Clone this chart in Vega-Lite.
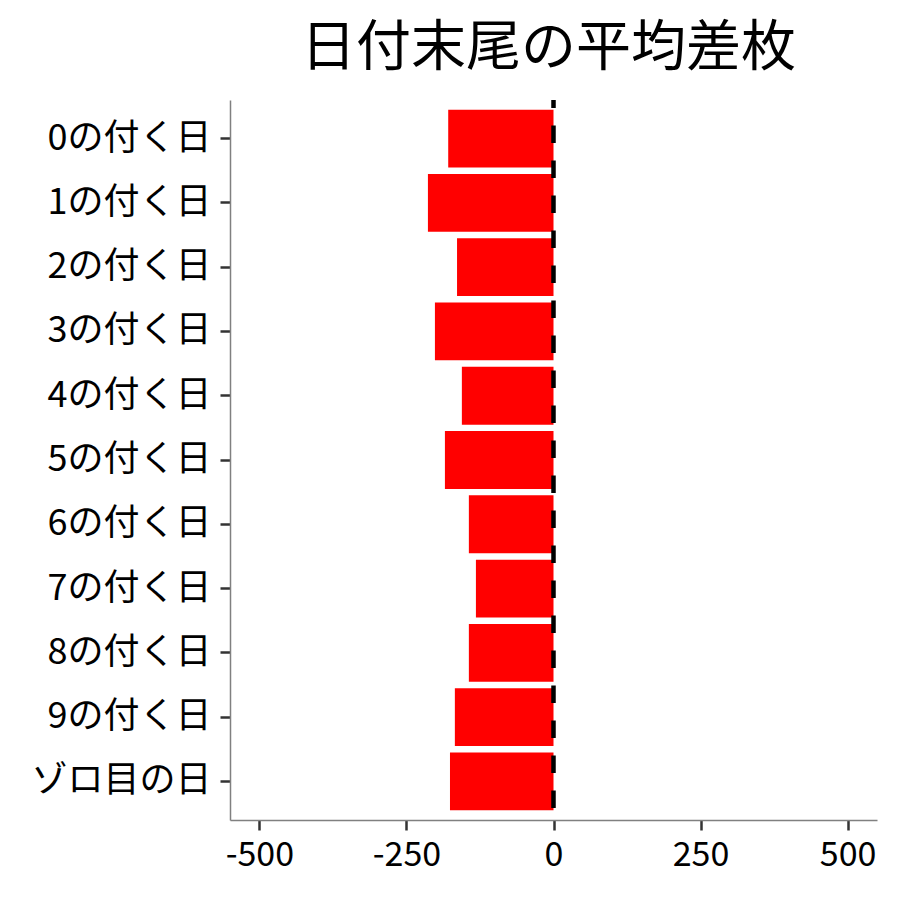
{
  "$schema": "https://vega.github.io/schema/vega-lite/v6.json",
  "autosize": {"type": "none"},
  "padding": {"left": 230, "top": 100, "right": 23, "bottom": 80},
  "width": 647,
  "height": 720,
  "background": "white",
  "title": {
    "text": "日付末尾の平均差枚",
    "font": "Noto Sans CJK JP",
    "fontSize": 55,
    "fontWeight": "normal",
    "color": "black",
    "anchor": "middle",
    "baseline": "alphabetic",
    "offset": 34,
    "dy": 56,
    "dx": -5
  },
  "config": {
    "view": {"stroke": null},
    "axis": {
      "labelFont": "Noto Sans CJK JP",
      "labelColor": "black",
      "grid": false,
      "domainColor": "#808080",
      "domainWidth": 1.5,
      "tickColor": "#333333",
      "tickWidth": 2.5,
      "tickSize": 10,
      "labelLimit": 0,
      "title": null
    }
  },
  "data": {
    "values": [
      {"day": "0の付く日", "diff": -179},
      {"day": "1の付く日", "diff": -213.5},
      {"day": "2の付く日", "diff": -164},
      {"day": "3の付く日", "diff": -201.6},
      {"day": "4の付く日", "diff": -155.8},
      {"day": "5の付く日", "diff": -184.6},
      {"day": "6の付く日", "diff": -143.9},
      {"day": "7の付く日", "diff": -131.9},
      {"day": "8の付く日", "diff": -143.9},
      {"day": "9の付く日", "diff": -167.7},
      {"day": "ゾロ目の日", "diff": -176}
    ]
  },
  "layer": [
    {
      "mark": {"type": "bar", "color": "#FF0000"},
      "encoding": {
        "y": {
          "field": "day",
          "type": "nominal",
          "sort": null,
          "scale": {"paddingInner": 0.1, "paddingOuter": 0.15},
          "axis": {"labelFontSize": 36, "labelPadding": 9, "labelLimit": 0}
        },
        "x": {
          "field": "diff",
          "type": "quantitative",
          "scale": {"domain": [-550, 550], "nice": false, "zero": false},
          "axis": {
            "values": [-500, -250, 0, 250, 500],
            "labelFontSize": 34,
            "labelPadding": 8,
            "labelExpr": "replace(datum.label, '−', '-')"
          }
        }
      }
    },
    {
      "data": {"values": [{"ref": 0}]},
      "mark": {"type": "rule", "color": "black", "strokeWidth": 4.5, "strokeDash": [17.5, 17.5], "strokeDashOffset": 9.5},
      "encoding": {
        "x": {"field": "ref", "type": "quantitative"}
      }
    }
  ]
}
